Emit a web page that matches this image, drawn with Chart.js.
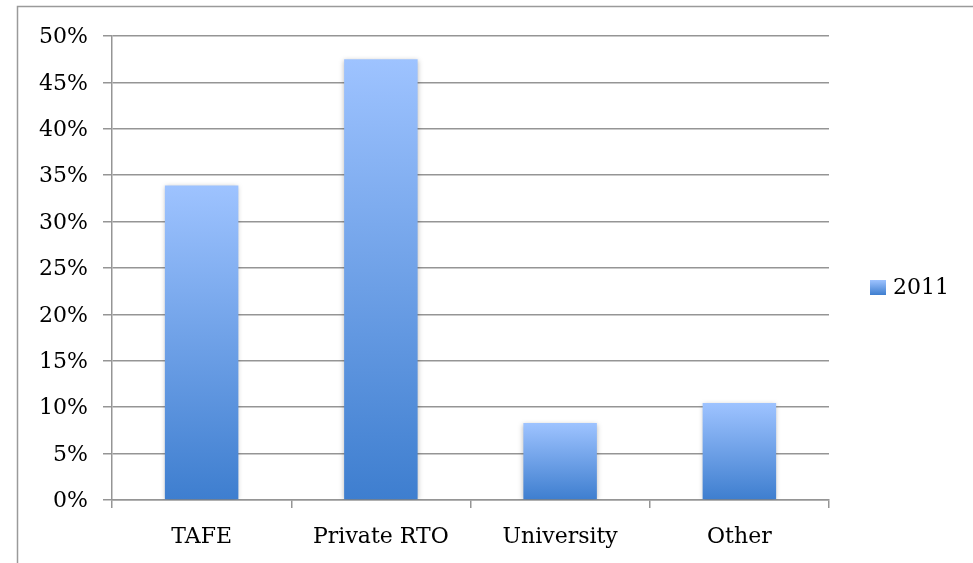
<!DOCTYPE html>
<html>
<head>
<meta charset="utf-8">
<script src="https://cdn.jsdelivr.net/npm/chart.js@4/dist/chart.umd.min.js"></script>
<style>
  html, body { margin: 0; padding: 0; background: #fff; }
  #wrap { position: relative; width: 973px; height: 563px; }
</style>
</head>
<body>
<div id="wrap"><canvas id="c" width="973" height="563"></canvas></div>
<script>
const categories = ["TAFE", "Private RTO", "University", "Other"];
const seriesName = "2011";
const values2011 = [33.9, 47.5, 8.3, 10.45];
const yTicks = [0, 5, 10, 15, 20, 25, 30, 35, 40, 45, 50];

const FONT = "'DejaVu Serif', 'Liberation Serif', serif";
const FONT_SIZE = 22;
const GRID = '#959595';
const TOP_COLOR = '#9ec3ff';
const BOTTOM_COLOR = '#3e7ecf';

function barGradient(ctx) {
  const chart = ctx.chart;
  if (!chart.chartArea || ctx.dataIndex === undefined) return TOP_COLOR;
  const y = chart.scales.y;
  const v = ctx.dataset.data[ctx.dataIndex];
  const top = y.getPixelForValue(v);
  const base = y.getPixelForValue(0);
  const g = chart.ctx.createLinearGradient(0, top, 0, base);
  g.addColorStop(0, TOP_COLOR);
  g.addColorStop(1, BOTTOM_COLOR);
  return g;
}

const framePlugin = {
  id: 'frame',
  beforeDraw(chart) {
    const c = chart.ctx;
    c.save();
    c.fillStyle = '#fff';
    c.fillRect(0, 0, chart.width, chart.height);
    c.strokeStyle = '#9a9a9a';
    c.lineWidth = 1.5;
    c.strokeRect(17.5, 6.5, 1000, 700);
    c.restore();
  }
};

const shadowPlugin = {
  id: 'barShadow',
  beforeDatasetsDraw(chart) {
    const c = chart.ctx;
    c.save();
    c.shadowColor = 'rgba(0,0,0,0.28)';
    c.shadowBlur = 5;
    c.shadowOffsetX = 0;
    c.shadowOffsetY = 1;
  },
  afterDatasetsDraw(chart) {
    chart.ctx.restore();
  }
};

const legendPlugin = {
  id: 'sideLegend',
  afterDraw(chart) {
    const c = chart.ctx;
    const bx = 870, by = 280, bw = 16, bh = 15;
    c.save();
    const g = c.createLinearGradient(0, by, 0, by + bh);
    g.addColorStop(0, TOP_COLOR);
    g.addColorStop(1, BOTTOM_COLOR);
    c.fillStyle = g;
    c.fillRect(bx, by, bw, bh);
    c.fillStyle = '#000';
    c.font = FONT_SIZE + 'px ' + FONT;
    c.textBaseline = 'middle';
    c.textAlign = 'left';
    c.fillText(seriesName, 893, by + bh / 2 + 1);
    c.restore();
  }
};

new Chart(document.getElementById('c'), {
  type: 'bar',
  data: {
    labels: categories,
    datasets: [{
      label: seriesName,
      data: values2011,
      backgroundColor: barGradient,
      borderWidth: 0,
      categoryPercentage: 1,
      barPercentage: 0.41
    }]
  },
  options: {
    responsive: false,
    animation: false,
    devicePixelRatio: 1,
    layout: { padding: { top: 36, right: 144, bottom: 0, left: 0 } },
    plugins: {
      legend: { display: false },
      tooltip: { enabled: false }
    },
    scales: {
      x: {
        grid: {
          display: true,
          drawOnChartArea: false,
          drawTicks: true,
          tickLength: 8,
          color: GRID,
          lineWidth: 1.5,
          offset: true
        },
        border: { display: true, color: GRID, width: 1.5 },
        ticks: {
          color: '#000',
          font: { family: FONT, size: FONT_SIZE },
          padding: 16,
          maxRotation: 0
        },
        afterFit(scale) { scale.height = 63; }
      },
      y: {
        min: 0,
        max: 50,
        afterBuildTicks(scale) { scale.ticks = yTicks.map(v => ({ value: v })); },
        grid: {
          color: GRID,
          lineWidth: 1.5,
          drawTicks: true,
          tickLength: 9
        },
        border: { display: true, color: GRID, width: 1.5 },
        ticks: {
          color: '#000',
          font: { family: FONT, size: FONT_SIZE },
          padding: 15,
          labelOffset: 1.5,
          callback: v => v + '%'
        },
        afterFit(scale) { scale.width = 112; }
      }
    }
  },
  plugins: [framePlugin, shadowPlugin, legendPlugin]
});
</script>
</body>
</html>
